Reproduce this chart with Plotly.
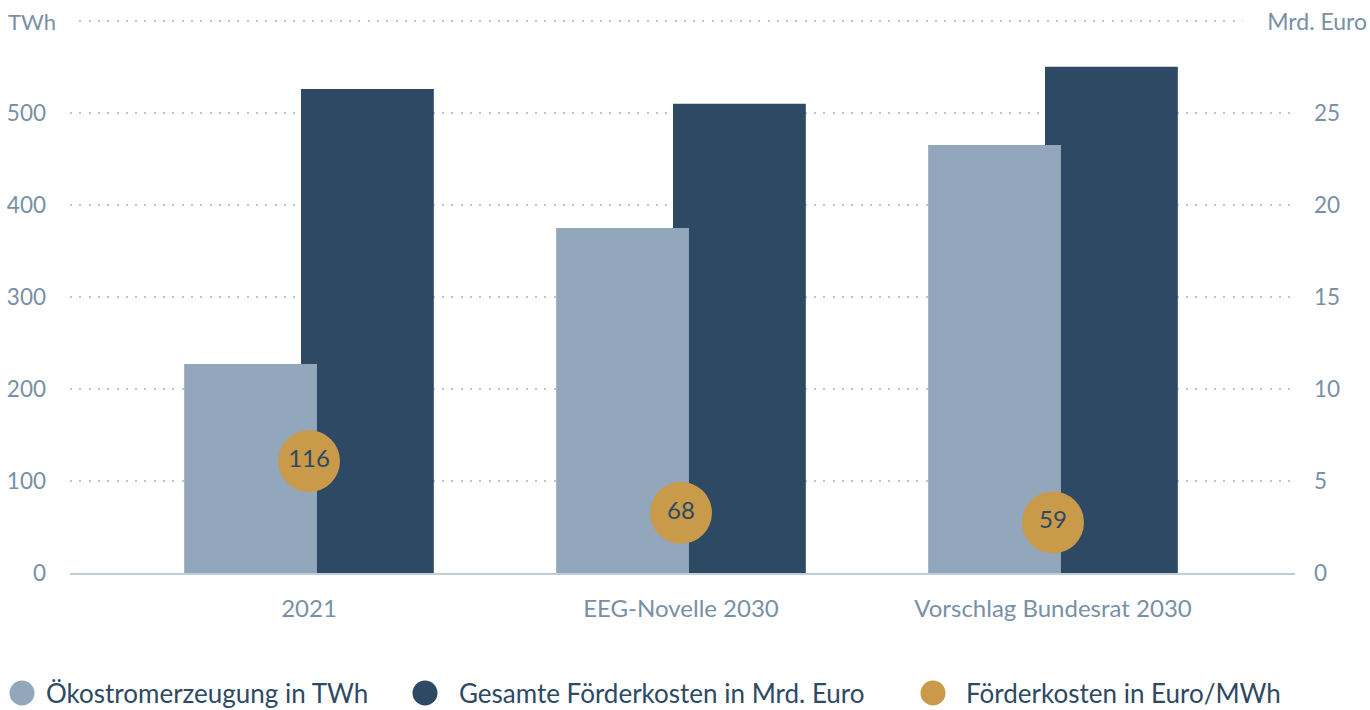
import plotly.graph_objects as go

categories = ["2021", "EEG-Novelle 2030", "Vorschlag Bundesrat 2030"]
oekostrom_twh = [227, 375, 465]
foerderkosten_mrd_euro = [26.3, 25.5, 27.5]
foerderkosten_euro_mwh = [116, 68, 59]

left_ticks = [0, 100, 200, 300, 400, 500, 600]
right_ticks = [0, 5, 10, 15, 20, 25]
legend_names = ["Ökostromerzeugung in TWh", "Gesamte Förderkosten in Mrd. Euro", "Förderkosten in Euro/MWh"]

LIGHT = "#92a7bb"
DARK = "#2e4963"
GOLD = "#c99a4a"
TICK = "#7890a6"
GRID = "#b8c6d4"
FONT = "Lato"

W, H = 1370, 710
PLOT_BOTTOM = 573          # pixel row of value 0
PX_PER_100 = 92.0          # pixels per 100 TWh
Y2_TOP = 602               # small headroom so the 600 gridline is drawn
PH = PX_PER_100 * Y2_TOP / 100
L, R = 70, 75
B = H - PLOT_BOTTOM
T = H - B - PH
PW = W - L - R

fig = go.Figure()

fig.add_trace(go.Bar(
    x=categories, y=foerderkosten_mrd_euro, yaxis="y",
    width=0.357, offset=-0.0215, marker=dict(color=DARK, line=dict(width=0)),
    name=legend_names[1], showlegend=False, hoverinfo="y",
))
fig.add_trace(go.Bar(
    x=categories, y=oekostrom_twh, yaxis="y2",
    width=0.357, offset=-0.3356, marker=dict(color=LIGHT, line=dict(width=0)),
    name=legend_names[0], showlegend=False, hoverinfo="y",
))
fig.add_trace(go.Scatter(
    x=categories, y=foerderkosten_euro_mwh, yaxis="y3",
    mode="markers+text", text=[str(v) for v in foerderkosten_euro_mwh],
    textposition="middle center", textfont=dict(family=FONT, size=24, color=DARK),
    marker=dict(size=62, color=GOLD, line=dict(width=0)),
    name=legend_names[2], showlegend=False, cliponaxis=False, hoverinfo="y",
))

# circle axis: linear placement of the Euro/MWh bubbles
y3_lo = 12.0
y3_hi = y3_lo + PH / 1.075

fig.update_layout(
    width=W, height=H,
    margin=dict(l=L, r=R, t=T, b=B, pad=0, autoexpand=False),
    plot_bgcolor="white", paper_bgcolor="white",
    barmode="overlay",
    font=dict(family=FONT, size=22, color=TICK),
    xaxis=dict(
        type="category", range=[-0.6425, 2.6505], automargin=False,
        showgrid=False, showline=True, linecolor="#bfcddb", linewidth=2,
        ticks="", ticklabelstandoff=13,
        tickfont=dict(family=FONT, size=24, color=TICK),
        zeroline=False, fixedrange=True,
    ),
    yaxis=dict(
        side="right", range=[0, Y2_TOP / 20], tickvals=right_ticks, automargin=False,
        showgrid=False, zeroline=False, showline=False, ticks="",
        ticklabelstandoff=18, tickfont=dict(family=FONT, size=22.5, color=TICK),
    ),
    yaxis2=dict(
        overlaying="y", side="left", range=[0, Y2_TOP], tickvals=left_ticks, automargin=False,
        ticktext=[str(v) for v in left_ticks[:-1]] + [""],
        showgrid=True, gridcolor=GRID, gridwidth=2, griddash="2px,7.3px",
        zeroline=False, showline=False, ticks="",
        ticklabelstandoff=23, tickfont=dict(family=FONT, size=22.5, color=TICK),
    ),
    yaxis3=dict(
        overlaying="y", range=[y3_lo, y3_hi], visible=False, automargin=False,
    ),
)

y600 = 600 / Y2_TOP
fig.add_annotation(xref="paper", yref="paper", x=(32 - L) / PW, y=y600,
                   text="TWh", showarrow=False, xanchor="center", yanchor="middle",
                   font=dict(family=FONT, size=22, color=TICK),
                   bgcolor="white", borderpad=0, width=90, height=30)
fig.add_annotation(xref="paper", yref="paper", x=(1368 - L) / PW, y=y600,
                   text="Mrd. Euro", showarrow=False, xanchor="right", yanchor="middle",
                   font=dict(family=FONT, size=23, color=TICK),
                   bgcolor="white", borderpad=0, width=124, height=30, align="right")

# custom legend with large circles
leg_y = (PLOT_BOTTOM - 693) / PH
leg_items = [(22, 44, LIGHT), (425, 457, DARK), (933, 964, GOLD)]
for name, (cx, tx, col) in zip(legend_names, leg_items):
    xp = (cx - L) / PW
    fig.add_shape(type="circle", xref="paper", yref="paper",
                  xsizemode="pixel", ysizemode="pixel",
                  xanchor=xp, yanchor=leg_y, x0=-12.5, x1=12.5, y0=-12.5, y1=12.5,
                  fillcolor=col, line=dict(width=0), layer="above")
    fig.add_annotation(xref="paper", yref="paper", x=(tx - L) / PW, y=leg_y,
                       text=name, showarrow=False, xanchor="left", yanchor="middle",
                       font=dict(family=FONT, size=26, color=DARK))

fig.write_html(
    "out.html",
    config={"displayModeBar": False},
    post_script="document.body.style.margin='0';document.body.style.overflow='hidden';",
)
